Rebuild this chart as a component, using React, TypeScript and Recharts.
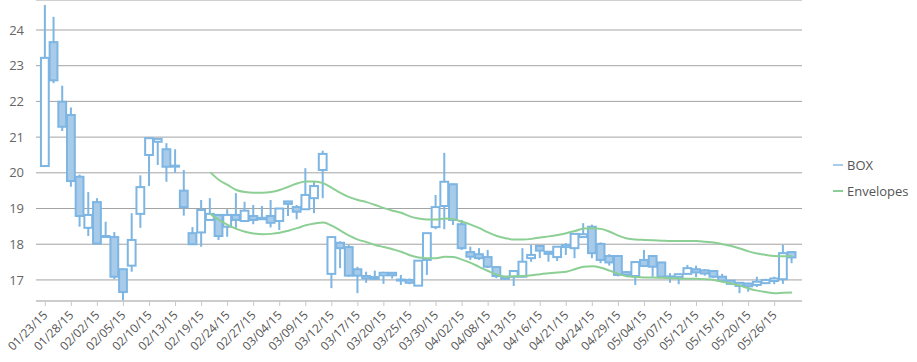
import { Bar, CartesianGrid, ComposedChart, Line, XAxis, YAxis } from "recharts";

const BLUE = "#7db5e3";
const BLUE_FILL = "#a8cbea";
const GREEN = "#8ccf94";
const FONT = "'Open Sans', 'Noto Sans', sans-serif";

const dates = [
  "01/23/15", "01/26/15", "01/27/15", "01/28/15", "01/29/15", "01/30/15",
  "02/02/15", "02/03/15", "02/04/15", "02/05/15", "02/06/15", "02/09/15", "02/10/15", "02/11/15",
  "02/12/15", "02/13/15", "02/17/15", "02/18/15", "02/19/15", "02/20/15", "02/23/15", "02/24/15",
  "02/25/15", "02/26/15", "02/27/15",
  "03/02/15", "03/03/15", "03/04/15", "03/05/15", "03/06/15", "03/09/15", "03/10/15", "03/11/15",
  "03/12/15", "03/13/15", "03/16/15", "03/17/15", "03/18/15", "03/19/15", "03/20/15", "03/23/15",
  "03/24/15", "03/25/15", "03/26/15", "03/27/15", "03/30/15", "03/31/15",
  "04/01/15", "04/02/15", "04/06/15", "04/07/15", "04/08/15", "04/09/15", "04/10/15", "04/13/15",
  "04/14/15", "04/15/15", "04/16/15", "04/17/15", "04/20/15", "04/21/15", "04/22/15", "04/23/15",
  "04/24/15", "04/27/15", "04/28/15", "04/29/15", "04/30/15",
  "05/01/15", "05/04/15", "05/05/15", "05/06/15", "05/07/15", "05/08/15", "05/11/15", "05/12/15",
  "05/13/15", "05/14/15", "05/15/15", "05/18/15", "05/19/15", "05/20/15", "05/21/15", "05/22/15",
  "05/26/15", "05/27/15", "05/28/15",
];

const opens = [
  20.19, 23.66, 21.99, 21.62, 19.89, 18.46, 19.18, 18.23, 18.2, 17.3,
  17.4, 18.85, 20.5, 20.87, 20.66, 20.2, 19.5, 18.31, 18.33, 18.68,
  18.82, 18.49, 18.82, 18.65, 18.79, 18.7, 18.79, 18.65, 19.2, 19.04,
  18.98, 19.29, 20.08, 17.17, 18.04, 17.92, 17.3, 17.11, 17.08, 17.13,
  17.2, 17.0, 17.0, 16.84, 17.56, 18.48, 19.07, 19.68, 18.56, 17.78,
  17.72, 17.64, 17.36, 17.09, 17.09, 17.09, 17.61, 17.95, 17.79, 17.64,
  17.92, 17.89, 18.2, 18.49, 18.01, 17.67, 17.67, 17.22, 17.11, 17.56,
  17.67, 17.49, 17.08, 17.08, 17.17, 17.3, 17.27, 17.25, 17.09, 16.98,
  16.92, 16.9, 16.86, 16.91, 16.97, 17.02, 17.78,
];
const highs = [
  24.7, 24.37, 22.44, 21.83, 19.95, 19.46, 19.29, 18.63, 18.34, 17.32,
  18.87, 19.93, 20.98, 20.97, 20.83, 20.66, 20.08, 18.48, 19.24, 19.29,
  18.85, 18.98, 19.43, 19.19, 19.1, 19.07, 19.24, 19.0, 19.21, 19.1,
  20.13, 19.75, 20.62, 18.2, 18.08, 17.98, 17.37, 17.23, 17.26, 17.23,
  17.2, 17.14, 17.04, 17.54, 18.31, 19.38, 20.56, 19.7, 18.68, 17.93,
  17.89, 17.84, 17.36, 17.1, 17.25, 17.89, 17.98, 17.95, 17.8, 17.95,
  18.03, 18.3, 18.59, 18.55, 18.05, 17.72, 17.68, 17.25, 17.52, 17.84,
  17.68, 17.5, 17.19, 17.17, 17.42, 17.4, 17.3, 17.26, 17.17, 17.0,
  16.94, 16.92, 17.09, 17.03, 17.09, 17.98, 17.79,
];
const lows = [
  20.17, 22.51, 21.17, 19.61, 18.49, 18.23, 18.02, 18.2, 17.02, 16.43,
  17.23, 18.46, 19.63, 20.22, 19.75, 20.0, 18.8, 17.98, 17.93, 18.66,
  18.12, 18.21, 18.45, 18.62, 18.56, 18.68, 18.47, 18.4, 18.79, 18.7,
  18.96, 18.87, 19.29, 16.77, 17.33, 17.09, 16.63, 16.92, 17.0, 16.89,
  17.04, 16.86, 16.88, 16.84, 17.14, 18.42, 18.42, 18.54, 17.84, 17.56,
  17.56, 17.33, 17.05, 17.0, 16.83, 17.07, 17.51, 17.61, 17.51, 17.53,
  17.7, 17.61, 18.2, 17.61, 17.47, 17.4, 17.1, 17.08, 16.86, 17.36,
  17.09, 17.05, 16.92, 16.88, 17.15, 17.08, 17.12, 17.05, 16.93, 16.87,
  16.63, 16.67, 16.8, 16.9, 16.88, 16.89, 17.47,
];
const closes = [
  23.22, 22.59, 21.29, 19.77, 18.79, 18.82, 18.02, 18.21, 17.09, 16.66,
  18.12, 19.6, 20.97, 20.95, 20.17, 20.18, 19.04, 18.0, 18.96, 18.85,
  18.23, 18.82, 18.68, 18.94, 18.68, 18.74, 18.6, 19.0, 19.13, 18.91,
  19.38, 19.63, 20.53, 18.2, 17.89, 17.12, 17.12, 17.04, 17.03, 17.2,
  17.13, 17.01, 16.92, 17.54, 18.31, 19.04, 19.75, 18.68, 17.89, 17.65,
  17.61, 17.37, 17.11, 17.03, 17.25, 17.51, 17.7, 17.82, 17.73, 17.93,
  17.98, 18.29, 18.28, 17.75, 17.56, 17.49, 17.14, 17.14, 17.5, 17.39,
  17.37, 17.09, 17.1, 17.16, 17.33, 17.21, 17.18, 17.09, 16.98, 16.89,
  16.83, 16.82, 16.95, 17.0, 17.04, 17.75, 17.63,
];

const envelopeUpper = [
  null, null, null, null, null, null, null, null, null, null,
  null, null, null, null, null, null, null, null, null, 20.02,
  19.8, 19.66, 19.52, 19.46, 19.44, 19.44, 19.46, 19.52, 19.61, 19.7,
  19.76, 19.76, 19.71, 19.58, 19.44, 19.32, 19.24, 19.18, 19.1, 19.01,
  18.94, 18.88, 18.78, 18.72, 18.69, 18.69, 18.72, 18.7, 18.63, 18.55,
  18.45, 18.33, 18.23, 18.17, 18.13, 18.13, 18.15, 18.19, 18.22, 18.26,
  18.31, 18.37, 18.44, 18.45, 18.43, 18.35, 18.24, 18.16, 18.13, 18.12,
  18.11, 18.1, 18.09, 18.09, 18.09, 18.09, 18.07, 18.05, 18.0, 17.95,
  17.88, 17.8, 17.74, 17.7, 17.67, 17.66, 17.67,
];
const envelopeLower = [
  null, null, null, null, null, null, null, null, null, null,
  null, null, null, null, null, null, null, null, null, 18.85,
  18.68, 18.54, 18.43, 18.35, 18.3, 18.28, 18.29, 18.32, 18.38, 18.45,
  18.53, 18.58, 18.61, 18.52, 18.38, 18.24, 18.13, 18.06, 17.98, 17.92,
  17.86, 17.79, 17.69, 17.63, 17.61, 17.61, 17.65, 17.64, 17.57, 17.48,
  17.36, 17.25, 17.15, 17.09, 17.1, 17.11, 17.13, 17.16, 17.19, 17.21,
  17.23, 17.3, 17.37, 17.38, 17.34, 17.26, 17.17, 17.1, 17.08, 17.07,
  17.07, 17.06, 17.05, 17.04, 17.03, 17.03, 17.02, 17.0, 16.95, 16.9,
  16.84, 16.76, 16.7, 16.66, 16.63, 16.64, 16.65,
];

const tickLabels = [
  "01/23/15", "01/28/15", "02/02/15", "02/05/15", "02/10/15", "02/13/15", "02/19/15",
  "02/24/15", "02/27/15", "03/04/15", "03/09/15", "03/12/15", "03/17/15", "03/20/15",
  "03/25/15", "03/30/15", "04/02/15", "04/08/15", "04/13/15", "04/16/15", "04/21/15",
  "04/24/15", "04/29/15", "05/04/15", "05/07/15", "05/12/15", "05/15/15", "05/20/15",
  "05/26/15",
];
const yTicks = [17, 18, 19, 20, 21, 22, 23, 24];

const rows = dates.map((date, i) => ({
  i,
  date,
  open: opens[i],
  high: highs[i],
  low: lows[i],
  close: closes[i],
  range: [lows[i], highs[i]],
  upper: envelopeUpper[i],
  lower: envelopeLower[i],
}));
const xTicks = tickLabels.map((l) => dates.indexOf(l));

function Candle(props: any) {
  const { x, y, width, height, payload } = props;
  if (x == null || y == null) return null;
  const { open, close, high, low } = payload;
  const span = high - low || 1;
  const py = (v: number) => y + ((high - v) / span) * height;
  const cx = x + width / 2;
  const top = py(Math.max(open, close));
  const bot = py(Math.min(open, close));
  const up = close > open;
  return (
    <g>
      <line x1={cx} x2={cx} y1={y} y2={y + height} stroke={BLUE} strokeWidth={2} />
      <rect
        x={x}
        y={top}
        width={width}
        height={Math.max(bot - top, 1)}
        fill={up ? "#ffffff" : BLUE_FILL}
        stroke={BLUE}
        strokeWidth={2}
      />
    </g>
  );
}

function DateTick(props: any) {
  const { x, y, payload } = props;
  return (
    <text
      transform={`translate(${x + 3},${y + 8}) rotate(-45)`}
      textAnchor="end"
      fontSize={12}
      fill="#555"
      fontFamily={FONT}
    >
      {dates[payload.value]}
    </text>
  );
}

export default function App() {
  return (
    <div style={{ position: "absolute", left: 0, top: 0, width: 917, height: 362, fontFamily: FONT }}>
      <ComposedChart
        width={917}
        height={362}
        data={rows}
        margin={{ top: 0, right: 115, left: 0, bottom: 0 }}
      >
        <CartesianGrid horizontal vertical={false} stroke="#a3a3a3" />
        <XAxis
          dataKey="i"
          type="number"
          domain={[-1.07, 87.15]}
          allowDataOverflow
          ticks={xTicks}
          interval={0}
          height={61}
          stroke="#c8c8c8"
          tickSize={5}
          tick={<DateTick />}
        />
        <YAxis
          type="number"
          domain={[16.41, 24.84]}
          allowDataOverflow
          ticks={yTicks}
          width={36}
          axisLine={false}
          tickLine={false}
          tickMargin={6}
          tick={{ fontSize: 13, fill: "#666", fontFamily: FONT }}
        />
        <Bar dataKey="range" barSize={10} shape={<Candle />} isAnimationActive={false} />
        <Line
          type="monotone"
          dataKey="upper"
          stroke={GREEN}
          strokeWidth={2}
          dot={false}
          isAnimationActive={false}
        />
        <Line
          type="monotone"
          dataKey="lower"
          stroke={GREEN}
          strokeWidth={2}
          dot={false}
          isAnimationActive={false}
        />
      </ComposedChart>
      <div style={{ position: "absolute", left: 833, top: 152, fontSize: 13, color: "#555", lineHeight: "26px" }}>
        <div style={{ display: "flex", alignItems: "center" }}>
          <span style={{ width: 10, height: 2, background: BLUE_FILL, marginRight: 4 }} />
          BOX
        </div>
        <div style={{ display: "flex", alignItems: "center" }}>
          <span style={{ width: 10, height: 2, background: GREEN, marginRight: 4 }} />
          Envelopes
        </div>
      </div>
    </div>
  );
}
